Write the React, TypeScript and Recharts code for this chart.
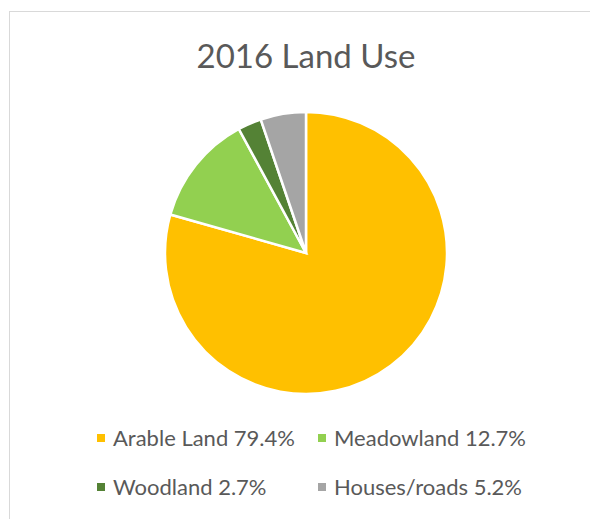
import React from 'react';
import { PieChart, Pie, Cell, Legend } from 'recharts';

const categories = ['Arable Land', 'Meadowland', 'Woodland', 'Houses/roads'];
const shares = [79.4, 12.7, 2.7, 5.2];
const COLORS = ['#FFC000', '#92D050', '#548235', '#A5A5A5'];

const data = categories.map((name, i) => ({ name, value: shares[i] }));

const FONT = 'Lato, "Open Sans", sans-serif';

function LegendGrid() {
  return (
    <div
      style={{
        display: 'grid',
        gridTemplateColumns: '221px 240px',
        rowGap: 27,
        fontFamily: FONT,
        fontSize: 22,
        color: '#595959',
        lineHeight: '22px',
      }}
    >
      {data.map((d, i) => (
        <div key={d.name} style={{ display: 'flex', alignItems: 'center', whiteSpace: 'nowrap' }}>
          <span style={{ width: 8, height: 8, background: COLORS[i], marginRight: 8, display: 'inline-block' }} />
          <span>{`${d.name} ${d.value.toFixed(1)}%`}</span>
        </div>
      ))}
    </div>
  );
}

export default function App() {
  return (
    <div style={{ position: 'fixed', left: 0, top: 0, width: 590, height: 519, overflow: 'hidden', background: '#fff' }}>
      <div
        style={{
          position: 'absolute', left: 9, top: 11, width: 620, height: 540,
          border: '1px solid #D9D9D9', boxSizing: 'border-box',
        }}
      />
      <div
        style={{
          position: 'absolute', left: 0, width: 612, top: 35, textAlign: 'center',
          fontFamily: FONT, fontSize: 33, color: '#595959', lineHeight: '40px',
        }}
      >
        2016 Land Use
      </div>
      <div style={{ position: 'absolute', left: 0, top: 0 }}>
        <PieChart width={590} height={519} margin={{ top: 0, right: 0, bottom: 0, left: 0 }}>
          <Pie
            data={data}
            dataKey="value"
            nameKey="name"
            cx={306}
            cy={253}
            outerRadius={141}
            startAngle={90}
            endAngle={-270}
            stroke="#fff"
            strokeWidth={2.5}
            isAnimationActive={false}
          >
            {data.map((d, i) => (
              <Cell key={d.name} fill={COLORS[i]} />
            ))}
          </Pie>
          <Legend
            content={() => <LegendGrid />}
            wrapperStyle={{ position: 'absolute', left: 97, top: 427, width: 480 }}
          />
        </PieChart>
      </div>
    </div>
  );
}
